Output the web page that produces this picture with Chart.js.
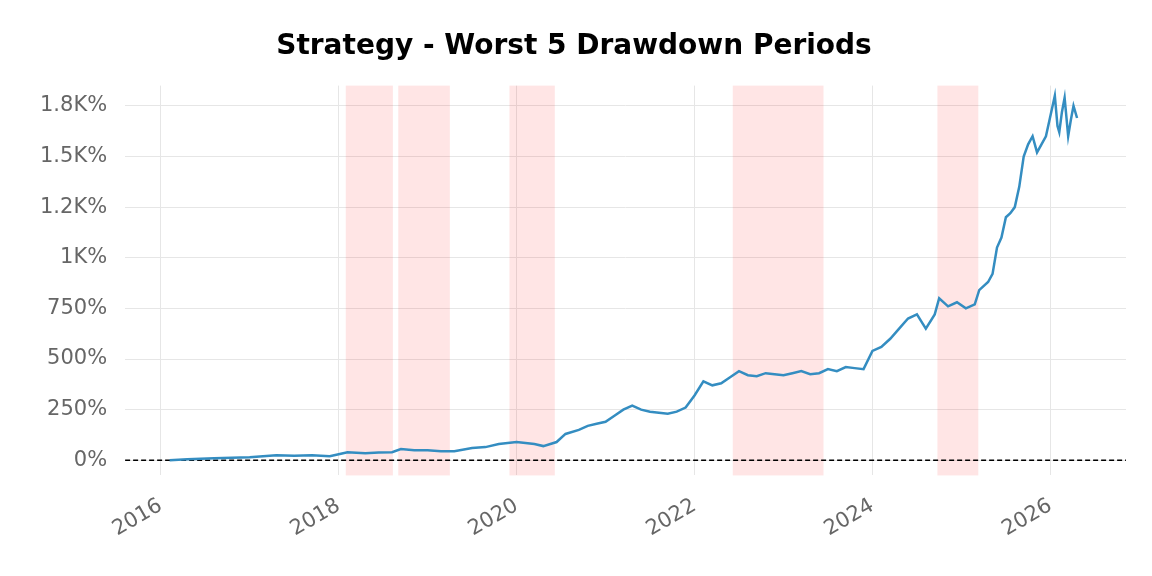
<!DOCTYPE html>
<html>
<head>
<meta charset="utf-8">
<script src="https://cdn.jsdelivr.net/npm/chart.js@4"></script>
<style>
  html, body { margin: 0; padding: 0; background: #fff; }
  #wrap { width: 1152px; height: 576px; }
</style>
</head>
<body>
<div id="wrap"><canvas id="chart"></canvas></div>
<script>
// decimal year and cumulative return (%)
const years = [2016.1, 2016.3, 2016.6, 2016.8, 2017.0, 2017.3, 2017.5, 2017.7, 2017.9, 2018.0, 2018.1, 2018.3, 2018.45, 2018.6,
  2018.7, 2018.85, 2019.0, 2019.15, 2019.3, 2019.5, 2019.65, 2019.8, 2020.0, 2020.1, 2020.2, 2020.3, 2020.45, 2020.55, 2020.7,
  2020.8, 2020.9, 2021.0, 2021.1, 2021.2, 2021.3, 2021.4, 2021.5, 2021.6, 2021.7, 2021.8, 2021.9, 2022.0, 2022.1, 2022.2,
  2022.3, 2022.4, 2022.5, 2022.6, 2022.7, 2022.8, 2022.9, 2023.0, 2023.1, 2023.2, 2023.3, 2023.4, 2023.5, 2023.6, 2023.7,
  2023.8, 2023.9, 2024.0, 2024.1, 2024.2, 2024.3, 2024.4, 2024.5, 2024.6, 2024.7, 2024.75, 2024.85, 2024.95, 2025.05, 2025.15,
  2025.2, 2025.3, 2025.35, 2025.4, 2025.45, 2025.5, 2025.55, 2025.6, 2025.65, 2025.7, 2025.75, 2025.8, 2025.85, 2025.9,
  2025.95, 2026.0, 2026.05, 2026.08, 2026.1, 2026.13, 2026.16, 2026.2, 2026.23, 2026.26, 2026.3];
const returns = [0, 5, 10, 12, 15, 25, 22, 25, 20, 30, 40, 35, 38, 40,
  55, 50, 50, 45, 45, 60, 65, 80, 90, 85, 80, 70, 90, 130, 150,
  170, 180, 190, 220, 250, 270, 250, 240, 235, 230, 240, 260, 320, 390, 370,
  380, 410, 440, 420, 415, 430, 425, 420, 430, 440, 425, 430, 450, 440, 460,
  455, 450, 540, 560, 600, 650, 700, 720, 650, 720, 800, 760, 780, 750, 770,
  840, 880, 920, 1050, 1100, 1200, 1220, 1250, 1350, 1500, 1560, 1600, 1520, 1560,
  1600, 1700, 1800, 1650, 1620, 1720, 1790, 1600, 1680, 1750, 1690];
// worst drawdown periods (start, end) as decimal years
const ddStart = [2018.08, 2018.67, 2019.92, 2022.43, 2024.73];
const ddEnd = [2018.61, 2019.25, 2020.43, 2023.45, 2025.19];
const yTicks = [0, 250, 500, 750, 1000, 1250, 1500, 1750];
const yTickLabels = ['0%', '250%', '500%', '750%', '1K%', '1.2K%', '1.5K%', '1.8K%'];
const xTicks = [2016, 2018, 2020, 2022, 2024, 2026];

const bgPlugin = {
  id: 'drawdowns',
  beforeDatasetsDraw(chart) {
    const { ctx, chartArea, scales } = chart;
    ctx.save();
    ctx.fillStyle = 'rgba(255, 0, 0, 0.1)';
    ddStart.forEach((s, i) => {
      const x0 = scales.x.getPixelForValue(s);
      const x1 = scales.x.getPixelForValue(ddEnd[i]);
      ctx.fillRect(x0, chartArea.top, x1 - x0, chartArea.bottom - chartArea.top);
    });
    const y0 = scales.y.getPixelForValue(0);
    ctx.strokeStyle = '#000';
    ctx.lineWidth = 1.5;
    ctx.setLineDash([5, 3]);
    ctx.beginPath();
    ctx.moveTo(chartArea.left, y0);
    ctx.lineTo(chartArea.right, y0);
    ctx.stroke();
    ctx.restore();
  }
};

new Chart(document.getElementById('chart'), {
  type: 'line',
  data: {
    datasets: [{
      data: years.map((x, i) => ({ x: x, y: returns[i] })),
      borderColor: '#348dc1',
      borderWidth: 2.5,
      pointRadius: 0,
      tension: 0,
      fill: false
    }]
  },
  options: {
    responsive: true,
    maintainAspectRatio: false,
    animation: false,
    layout: { padding: { left: 22, right: 26, top: 0, bottom: 16 } },
    plugins: {
      legend: { display: false },
      tooltip: { enabled: false },
      title: {
        display: true,
        text: 'Strategy - Worst 5 Drawdown Periods',
        color: '#000',
        font: { family: 'DejaVu Sans', size: 28, weight: 'bold' },
        padding: { top: 30, bottom: 22 }
      }
    },
    scales: {
      x: {
        type: 'linear',
        min: 2015.6,
        max: 2026.85,
        afterBuildTicks: axis => { axis.ticks = xTicks.map(v => ({ value: v })); },
        ticks: {
          color: '#666',
          font: { family: 'DejaVu Sans', size: 21 },
          padding: 18,
          maxRotation: 30, minRotation: 30,
          callback: v => String(v)
        },
        grid: { color: '#e6e6e6', drawTicks: false },
        border: { display: false }
      },
      y: {
        min: -75,
        max: 1850,
        afterBuildTicks: axis => { axis.ticks = yTicks.map(v => ({ value: v })); },
        ticks: {
          color: '#666',
          font: { family: 'DejaVu Sans', size: 21 },
          padding: 18,
          callback: v => yTickLabels[yTicks.indexOf(v)]
        },
        grid: { color: '#e6e6e6', drawTicks: false },
        border: { display: false }
      }
    }
  },
  plugins: [bgPlugin]
});
</script>
</body>
</html>
